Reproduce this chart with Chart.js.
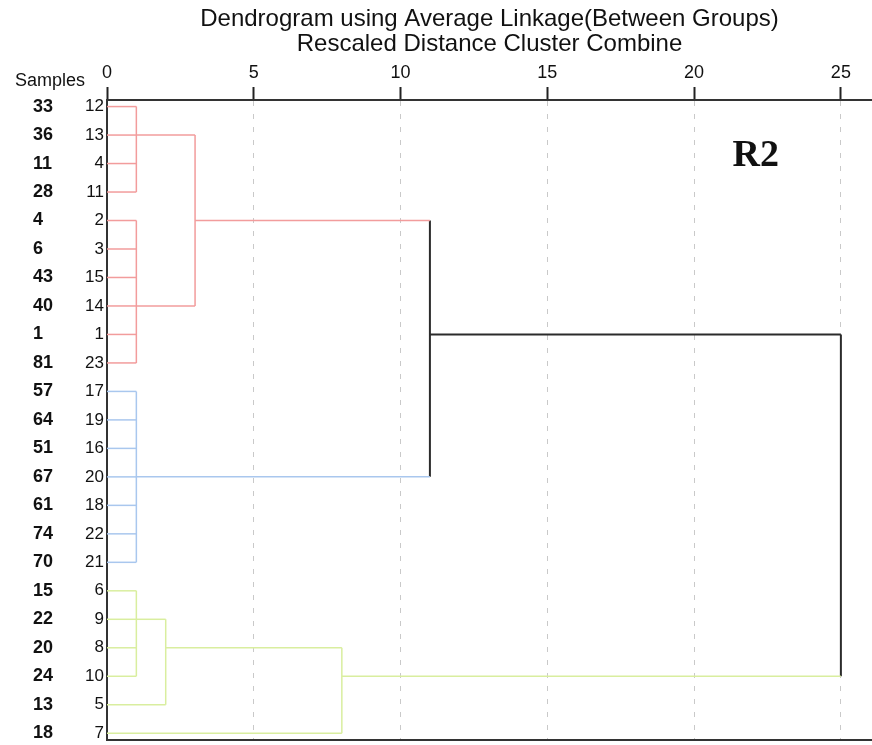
<!DOCTYPE html>
<html>
<head>
<meta charset="utf-8">
<script src="https://cdn.jsdelivr.net/npm/chart.js@4"></script>
<style>
  html, body { margin: 0; padding: 0; background: #fff; overflow: hidden; }
  #wrap { width: 872px; height: 745px; }
</style>
</head>
<body>
<div id="wrap"><canvas id="dendro"></canvas></div>
<script>
// leaf order, top to bottom
const caseLabels = ['12','13','4','11','2','3','15','14','1','23','17','19','16','20','18','22','21','6','9','8','10','5','7'];
const sampleLabels = ['33','36','11','28','4','6','43','40','1','81','57','64','51','67','61','74','70','15','22','20','24','13','18'];

// merges: children are leaf rows (numbers) or earlier merges ('n' + index)
const mergeChildren = [
    [0, 1, 2, 3],
    [4, 5, 6, 7, 8, 9],
    ['n0', 'n1'],
    [10, 11, 12, 13, 14, 15, 16],
    ['n2', 'n3'],
    [17, 18, 19, 20],
    ['n5', 21],
    ['n6', 22],
    ['n4', 'n7']
];
const mergeDistance = [1, 1, 3, 1, 11, 1, 2, 8, 25];
const mergeRow = [1, 7, 4, 13, 8, 18, 19, 20, null];
const mergeColor = ['red', 'red', 'red', 'blue', 'black', 'green', 'green', 'green', 'black'];

const xTicks = [0, 5, 10, 15, 20, 25];

const colors = { red: '#f29c9c', blue: '#a9c7ee', green: '#d9ee9f', black: '#2b2b2b' };
const family = "'Liberation Sans', Arial, sans-serif";
Chart.defaults.font.family = family;
Chart.defaults.color = '#111';

function childInfo(c, parent){
    if (typeof c === 'string') {
        const k = parseInt(c.slice(1));
        return { dist: mergeDistance[k], row: mergeRow[k], color: mergeColor[k] };
    }
    return { dist: 0, row: c, color: mergeColor[parent] };
}

const datasets = [];
function segment(x1, y1, x2, y2, colorName){
    datasets.push({
        data: [{x: x1, y: y1}, {x: x2, y: y2}],
        borderColor: colors[colorName],
        borderWidth: colorName === 'black' ? 2 : 1.5,
        showLine: true,
        pointRadius: 0,
        pointHoverRadius: 0,
        fill: false,
        clip: false
    });
}

mergeChildren.forEach((kids, k) => {
    const d = mergeDistance[k];
    const rows = [];
    kids.forEach(c => {
        const info = childInfo(c, k);
        segment(info.dist, info.row, d, info.row, info.color);
        rows.push(info.row);
    });
    segment(d, Math.min(...rows), d, Math.max(...rows), mergeColor[k]);
});

// labels sit inside the row range, so no extra room is needed at the ends
function noEndPadding(s){
    s.paddingTop = 0;
    s.paddingBottom = 0;
}

const extraText = {
    id: 'extraText',
    afterDraw(chart){
        const ctx = chart.ctx;
        const x = chart.scales.x, y = chart.scales.y;
        ctx.save();
        ctx.fillStyle = '#111';
        ctx.font = "18px " + family;
        ctx.textAlign = 'left';
        ctx.textBaseline = 'alphabetic';
        ctx.fillText('Samples', 15, 86);
        ctx.font = "bold 38px 'Liberation Serif', 'Times New Roman', serif";
        ctx.textAlign = 'center';
        ctx.fillText('R2', x.getPixelForValue(22.1), y.getPixelForValue(2.1));
        ctx.restore();
    }
};

new Chart(document.getElementById('dendro'), {
    type: 'scatter',
    data: { datasets: datasets },
    plugins: [extraText],
    options: {
        responsive: true,
        maintainAspectRatio: false,
        animation: false,
        events: [],
        layout: { padding: { left: 33, right: 0, top: 0, bottom: 5.5 } },
        plugins: {
            legend: { display: false },
            tooltip: { enabled: false },
            title: {
                display: true,
                fullSize: false,
                text: ['Dendrogram using Average Linkage(Between Groups)', 'Rescaled Distance Cluster Combine'],
                color: '#111',
                font: { size: 24, weight: 'normal', lineHeight: 1.04 },
                padding: { top: 6.5, bottom: 3 }
            }
        },
        scales: {
            x: {
                type: 'linear',
                position: 'top',
                min: 0,
                max: 26.06,
                afterBuildTicks: s => { s.ticks = xTicks.map(v => ({value: v})); },
                ticks: { font: { size: 18 }, color: '#111', padding: 3, maxRotation: 0, autoSkip: false },
                grid: { color: '#c9c9c9', lineWidth: 1, tickLength: 13, tickColor: '#222', tickWidth: 2 },
                border: { color: '#333', width: 2, dash: [5, 8] }
            },
            xb: {
                type: 'linear',
                position: 'bottom',
                min: 0,
                max: 26.06,
                ticks: { display: false },
                grid: { display: false, drawTicks: false },
                border: { color: '#333', width: 2 }
            },
            y: {
                type: 'linear',
                position: 'left',
                min: -0.23,
                max: 22.22,
                reverse: true,
                afterBuildTicks: s => { s.ticks = caseLabels.map((_, i) => ({value: i})); },
                afterFit: s => { s.width = 40; noEndPadding(s); },
                ticks: {
                    callback: v => caseLabels[v],
                    font: { size: 17 },
                    color: '#111',
                    padding: 3,
                    autoSkip: false,
                    crossAlign: 'near'
                },
                grid: { display: false, drawTicks: false },
                border: { color: '#333', width: 2 }
            },
            y2: {
                type: 'linear',
                position: 'left',
                weight: 1,
                min: -0.23,
                max: 22.22,
                reverse: true,
                afterBuildTicks: s => { s.ticks = sampleLabels.map((_, i) => ({value: i})); },
                afterFit: s => { s.width = 34; noEndPadding(s); },
                ticks: {
                    callback: v => sampleLabels[v],
                    font: { size: 18, weight: 'bold' },
                    color: '#111',
                    padding: 0,
                    autoSkip: false,
                    crossAlign: 'far'
                },
                grid: { display: false, drawTicks: false },
                border: { display: false }
            }
        }
    }
});
</script>
</body>
</html>
